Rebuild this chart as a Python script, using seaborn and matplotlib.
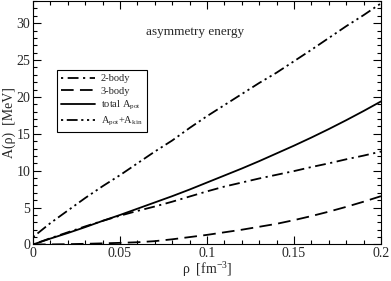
import numpy as np
import pandas as pd
import seaborn as sns
import matplotlib.pyplot as plt
from matplotlib.ticker import MultipleLocator

# density grid and curves
rho = [0.00, 0.01, 0.02, 0.03, 0.04, 0.05, 0.06, 0.07, 0.08, 0.09, 0.10,
       0.11, 0.12, 0.13, 0.14, 0.15, 0.16, 0.17, 0.18, 0.19, 0.20]
two_body = [0.0, 0.85, 1.65, 2.45, 3.2, 3.9, 4.55, 5.15, 5.8, 6.5, 7.2,
            7.85, 8.4, 8.95, 9.45, 9.95, 10.5, 11.0, 11.55, 12.05, 12.6]
three_body = [0.0, 0.01, 0.04, 0.09, 0.15, 0.22, 0.3, 0.45, 0.7, 1.0, 1.3,
              1.65, 2.0, 2.4, 2.8, 3.3, 3.85, 4.45, 5.1, 5.8, 6.55]
total_pot = [0.0, 0.8, 1.55, 2.35, 3.2, 4.0, 4.85, 5.7, 6.55, 7.45, 8.4,
             9.35, 10.3, 11.3, 12.35, 13.4, 14.5, 15.65, 16.85, 18.1, 19.4]
pot_kin = [1.0, 2.9, 4.6, 6.3, 7.9, 9.4, 11.0, 12.6, 14.1, 15.8, 17.4,
           18.9, 20.4, 21.9, 23.3, 24.85, 26.4, 28.0, 29.6, 31.1, 32.7]

labels = ["2-body", "3-body", "total A$_{pot}$", "A$_{pot}$+A$_{kin}$"]

sns.set_style("ticks")
plt.rcParams['font.family'] = ['Liberation Serif', 'DejaVu Serif']
plt.rcParams['mathtext.fontset'] = 'custom'
plt.rcParams['mathtext.rm'] = 'Liberation Serif'
plt.rcParams['mathtext.default'] = 'regular'

fig = plt.figure(figsize=(3.91, 2.81), dpi=100)
ax = fig.add_axes([0.0844, 0.130, 0.890, 0.866])

dash_styles = [(1.2, 2.5, 6, 2.5), (7, 3.5), (), (1.2, 2, 6, 2, 1.2, 2)]
for ys, lab, ds in zip([two_body, three_body, total_pot, pot_kin], labels, dash_styles):
    sns.lineplot(x=rho, y=ys, ax=ax, color='black', lw=1.3, label=lab)
    if ds:
        ax.lines[-1].set_dashes(ds)

ax.set_xlim(0, 0.2)
ax.set_ylim(0, 33)
ax.xaxis.set_minor_locator(MultipleLocator(0.01))
ax.yaxis.set_major_locator(MultipleLocator(5))
ax.yaxis.set_minor_locator(MultipleLocator(1))
ax.set_xticks([0, 0.05, 0.1, 0.15, 0.2])
ax.set_xticklabels(["0", "0.05", "0.1", "0.15", "0.2"])
ax.tick_params(which='both', direction='in', top=True, right=True, color='black',
               labelsize=10, width=0.8, pad=2)
ax.tick_params(which='major', length=6)
ax.tick_params(which='minor', length=3)
for s in ax.spines.values():
    s.set_color('black')
    s.set_linewidth(0.8)

ax.set_xlabel("ρ  [fm$^{-3}$]", fontsize=10, labelpad=0)
ax.set_ylabel("A(ρ)  [MeV]", fontsize=10, labelpad=0)
ax.text(0.466, 0.873, "asymmetry energy", transform=ax.transAxes,
        ha='center', va='center', fontsize=9.5)

leg = ax.legend(loc='upper left', bbox_to_anchor=(0.069, 0.717), borderaxespad=0,
                fontsize=7.5, handlelength=3.2, handletextpad=0.6, frameon=True,
                fancybox=False, framealpha=1, edgecolor='black', borderpad=0.4,
                labelspacing=0.3)
leg.get_frame().set_linewidth(0.8)

fig.savefig("out.png", dpi=100)
